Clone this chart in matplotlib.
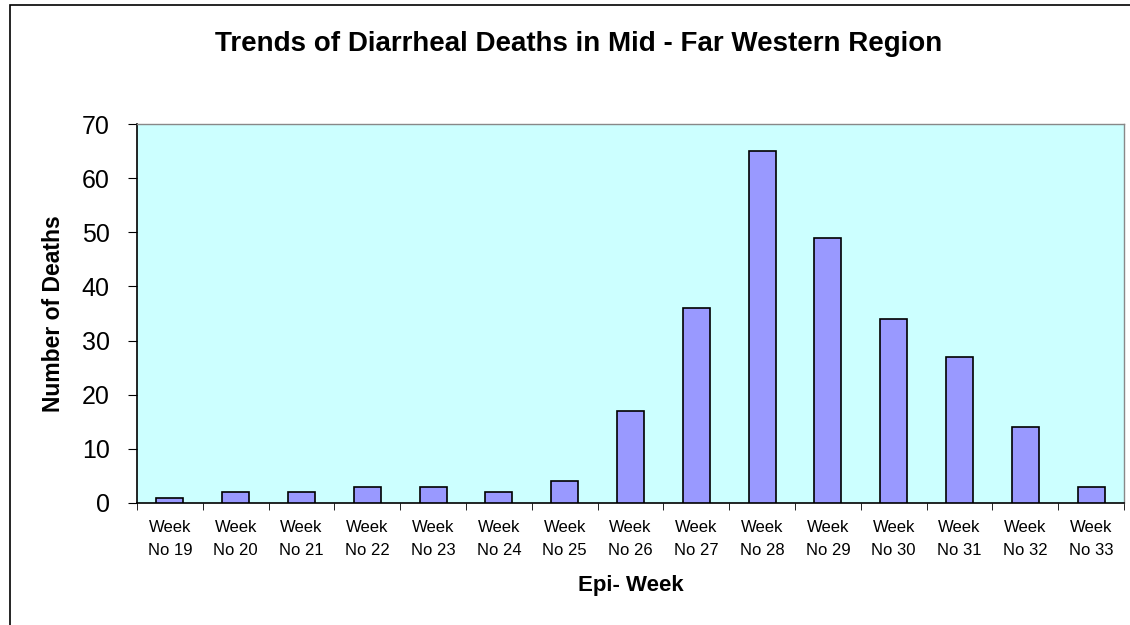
import matplotlib.pyplot as plt
from matplotlib.patches import Rectangle
import numpy as np

plt.rcParams['font.family'] = ['Liberation Sans', 'DejaVu Sans']

weeks = ["19", "20", "21", "22", "23", "24", "25", "26", "27", "28",
         "29", "30", "31", "32", "33"]
deaths = [1, 2, 2, 3, 3, 2, 4, 17, 36, 65, 49, 34, 27, 14, 3]
labels = ["Week\nNo " + w for w in weeks]

fig = plt.figure(figsize=(11.3, 6.25), dpi=100)
ax = fig.add_axes([0.1212, 0.1952, 0.8735, 0.6064])

x = np.arange(len(weeks))
ax.bar(x, deaths, width=0.41, color="#9999ff", edgecolor="black", linewidth=1.2, zorder=3)

ax.set_facecolor("#ccffff")
ax.set_xlim(-0.5, len(weeks) - 0.5)
ax.set_ylim(0, 70)
ax.set_yticks(range(0, 71, 10))
ax.tick_params(axis="y", labelsize=18, length=6.5, pad=13, direction="out")

ax.set_xticks(x)
ax.set_xticklabels(labels, fontsize=12, linespacing=1.7)
ax.set_xticks(np.arange(-0.5, len(weeks), 1), minor=True)
ax.tick_params(axis="x", which="major", length=0, pad=12)
ax.tick_params(axis="x", which="minor", length=5)

for side in ["top", "right"]:
    ax.spines[side].set_color("#888888")
    ax.spines[side].set_linewidth(1.0)
for side in ["left", "bottom"]:
    ax.spines[side].set_color("black")
    ax.spines[side].set_linewidth(1.2)

ax.set_ylabel("Number of Deaths", fontsize=16.5, fontweight="bold")
ax.yaxis.set_label_coords(-0.0733, 0.5)
ax.set_xlabel("Epi- Week", fontsize=16, fontweight="bold")
ax.xaxis.set_label_coords(0.5005, -0.19)

fig.text(0.512, 0.9296, "Trends of Diarrheal Deaths in Mid - Far Western Region",
         ha="center", va="center", fontsize=20, fontweight="bold")

# outer chart border (clipped at right/bottom like the reference)
fig.patches.append(Rectangle((0.0088, -0.1), 1.2, 1.092, transform=fig.transFigure,
                             fill=False, edgecolor="black", linewidth=1.2))

fig.savefig("out.png", dpi=100)
